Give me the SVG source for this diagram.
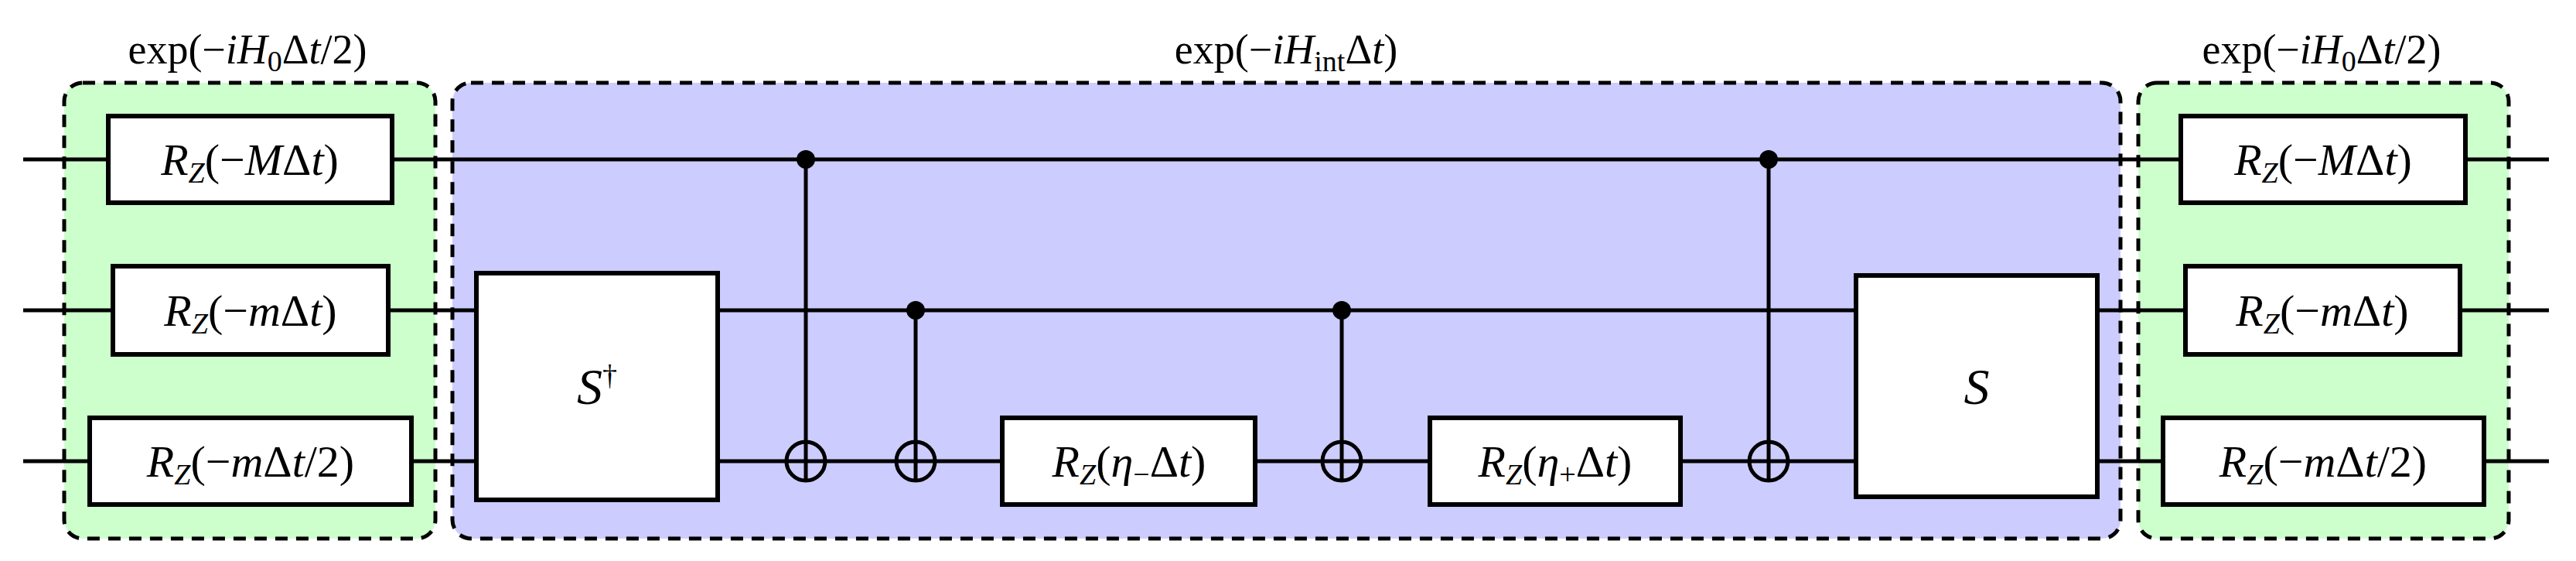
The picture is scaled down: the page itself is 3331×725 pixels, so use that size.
<svg xmlns="http://www.w3.org/2000/svg" width="3331" height="725" viewBox="0 0 3331 725">
<style>
.bg{stroke:#000;stroke-width:5;stroke-dasharray:16 11}
.w{stroke:#000;stroke-width:5;fill:none}
.g{fill:#fff;stroke:#000;stroke-width:6}
text{font-family:"Liberation Serif",serif;font-size:58px;text-anchor:middle;fill:#000}
.t{font-size:54px}
.i{font-style:italic}
.s{font-size:38px}
.big{font-size:66px}
</style>
<rect width="3331" height="725" fill="#fff"/>
<g id="group-left"><rect class="bg" x="83" y="107" width="480" height="589" rx="24" fill="#ccffcc"/><text class="t" x="320" y="82">exp(−<tspan class="i">iH</tspan><tspan class="s" dy="10">0</tspan><tspan dy="-10">Δ</tspan><tspan class="i">t</tspan>/2)</text></g>
<g id="group-mid"><rect class="bg" x="585" y="107" width="2157" height="589" rx="24" fill="#ccccff"/><text class="t" x="1663" y="82">exp(−<tspan class="i">iH</tspan><tspan class="s" dy="10">int</tspan><tspan dy="-10">Δ</tspan><tspan class="i">t</tspan>)</text></g>
<g id="group-right"><rect class="bg" x="2765" y="107" width="479" height="589" rx="24" fill="#ccffcc"/><text class="t" x="3002" y="82">exp(−<tspan class="i">iH</tspan><tspan class="s" dy="10">0</tspan><tspan dy="-10">Δ</tspan><tspan class="i">t</tspan>/2)</text></g>
<g id="connectors">
<line class="w" x1="30" y1="206" x2="3296" y2="206"/>
<line class="w" x1="30" y1="401" x2="3296" y2="401"/>
<line class="w" x1="30" y1="596" x2="3296" y2="596"/>
<line class="w" x1="1042" y1="206" x2="1042" y2="622"/>
<line class="w" x1="1184" y1="401" x2="1184" y2="622"/>
<line class="w" x1="1735" y1="401" x2="1735" y2="622"/>
<line class="w" x1="2287" y1="206" x2="2287" y2="622"/>
<circle cx="1042" cy="206" r="12"/><circle cx="1184" cy="401" r="12"/><circle cx="1735" cy="401" r="12"/><circle cx="2287" cy="206" r="12"/>
<circle class="w" cx="1042" cy="596" r="25"/><circle class="w" cx="1184" cy="596" r="25"/><circle class="w" cx="1735" cy="596" r="25"/><circle class="w" cx="2287" cy="596" r="25"/>
</g>
<g id="rz-l1"><rect class="g" x="140" y="150" width="367" height="112"/><text x="323" y="226"><tspan class="i">R</tspan><tspan class="s i" dy="10">Z</tspan><tspan dy="-10">(−</tspan><tspan class="i">M</tspan>Δ<tspan class="i">t</tspan>)</text></g>
<g id="rz-l2"><rect class="g" x="146" y="344" width="356" height="114"/><text x="324" y="421"><tspan class="i">R</tspan><tspan class="s i" dy="10">Z</tspan><tspan dy="-10">(−</tspan><tspan class="i">m</tspan>Δ<tspan class="i">t</tspan>)</text></g>
<g id="rz-l3"><rect class="g" x="116" y="540" width="416" height="112"/><text x="324" y="616"><tspan class="i">R</tspan><tspan class="s i" dy="10">Z</tspan><tspan dy="-10">(−</tspan><tspan class="i">m</tspan>Δ<tspan class="i">t</tspan>/2)</text></g>
<g id="sdag"><rect class="g" x="616" y="353" width="312" height="293"/><text class="big" x="772" y="522"><tspan class="i">S</tspan><tspan class="s" dy="-24">†</tspan></text></g>
<g id="rz-eta-minus"><rect class="g" x="1296" y="540" width="327" height="112"/><text x="1460" y="616"><tspan class="i">R</tspan><tspan class="s i" dy="10">Z</tspan><tspan dy="-10">(</tspan><tspan class="i">η</tspan><tspan class="s" dy="10">−</tspan><tspan dy="-10">Δ</tspan><tspan class="i">t</tspan>)</text></g>
<g id="rz-eta-plus"><rect class="g" x="1849" y="540" width="324" height="112"/><text x="2011" y="616"><tspan class="i">R</tspan><tspan class="s i" dy="10">Z</tspan><tspan dy="-10">(</tspan><tspan class="i">η</tspan><tspan class="s" dy="10">+</tspan><tspan dy="-10">Δ</tspan><tspan class="i">t</tspan>)</text></g>
<g id="s"><rect class="g" x="2400" y="356" width="312" height="286"/><text class="i big" x="2556" y="522">S</text></g>
<g id="rz-r1"><rect class="g" x="2820" y="150" width="368" height="112"/><text x="3004" y="226"><tspan class="i">R</tspan><tspan class="s i" dy="10">Z</tspan><tspan dy="-10">(−</tspan><tspan class="i">M</tspan>Δ<tspan class="i">t</tspan>)</text></g>
<g id="rz-r2"><rect class="g" x="2826" y="344" width="355" height="114"/><text x="3003" y="421"><tspan class="i">R</tspan><tspan class="s i" dy="10">Z</tspan><tspan dy="-10">(−</tspan><tspan class="i">m</tspan>Δ<tspan class="i">t</tspan>)</text></g>
<g id="rz-r3"><rect class="g" x="2797" y="540" width="415" height="112"/><text x="3004" y="616"><tspan class="i">R</tspan><tspan class="s i" dy="10">Z</tspan><tspan dy="-10">(−</tspan><tspan class="i">m</tspan>Δ<tspan class="i">t</tspan>/2)</text></g>
</svg>
